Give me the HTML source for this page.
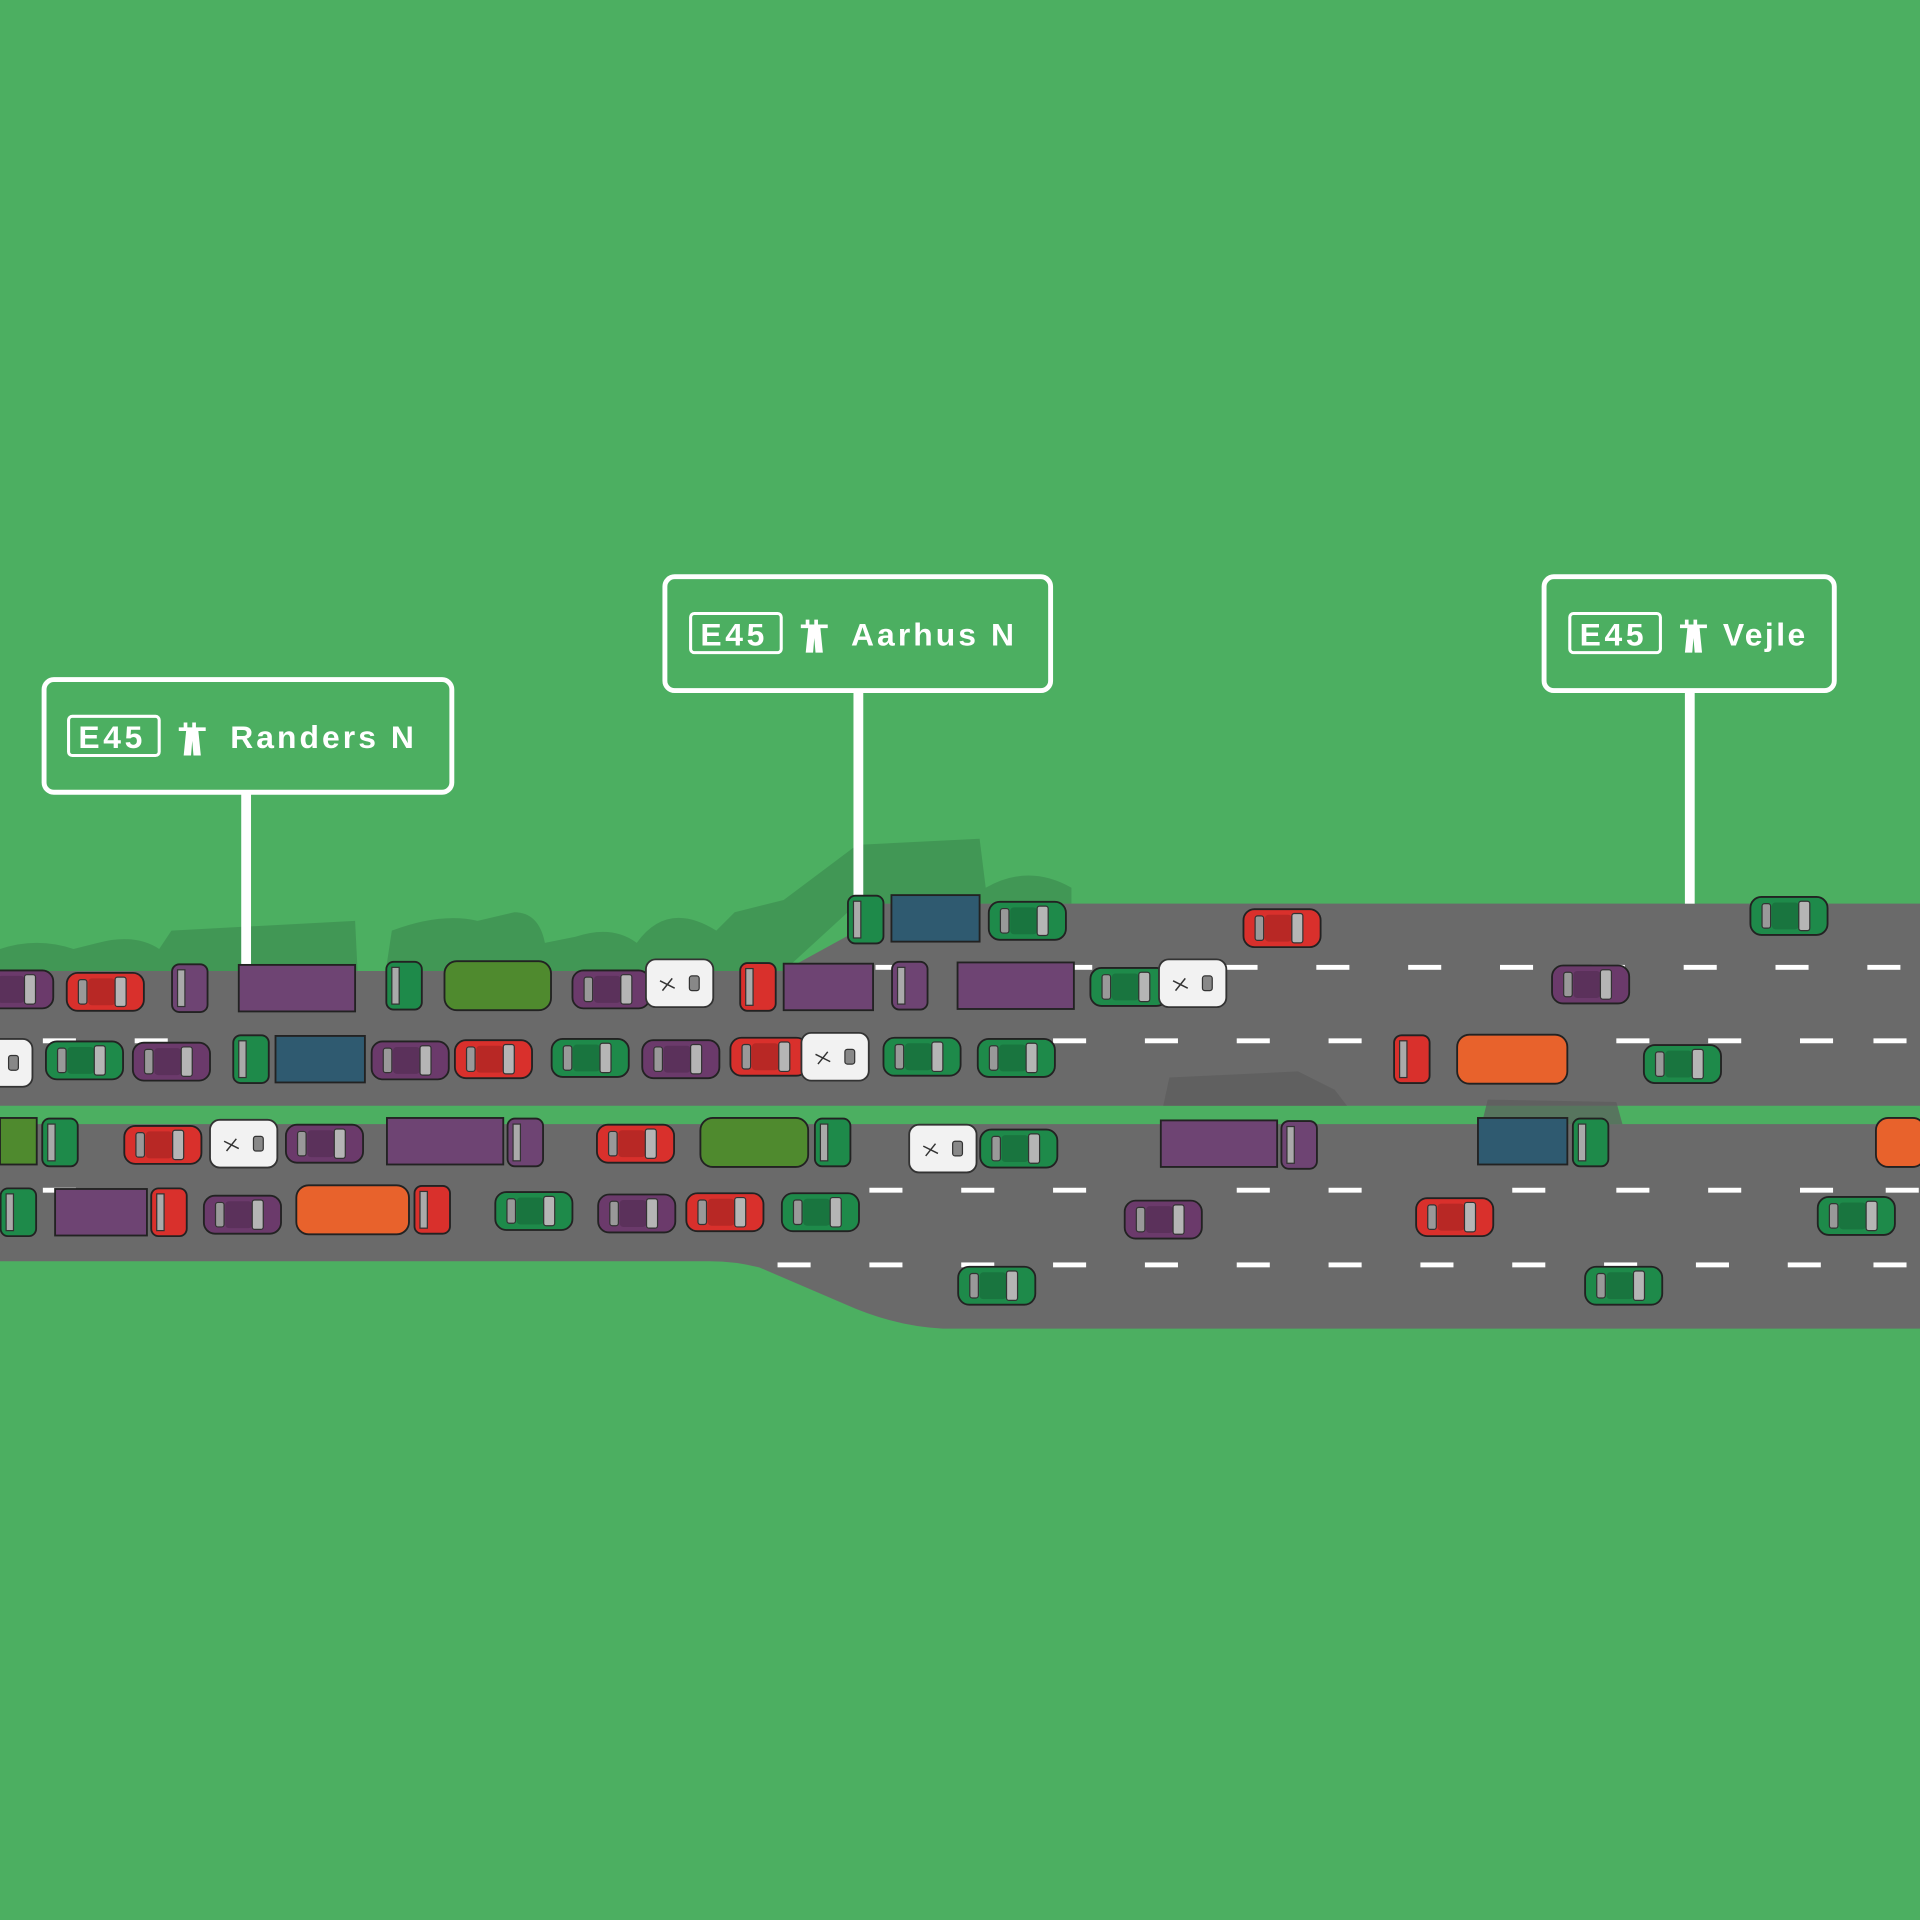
<!DOCTYPE html>
<html><head><meta charset="utf-8"><style>html,body{margin:0;padding:0;background:#4caf61}svg{display:block}</style></head>
<body>
<svg width="1920" height="1920" viewBox="0 0 1568 1568" xmlns="http://www.w3.org/2000/svg">
<defs>
<symbol id="car" viewBox="0 0 64 32" width="64" height="32" overflow="visible">
<rect x="0.5" y="0.5" width="63" height="31" rx="9" fill="currentColor" stroke="#222" stroke-width="1.5"/>
<rect x="18" y="5" width="22" height="22" rx="3" fill="#000" opacity="0.15"/>
<rect x="40" y="4" width="9" height="24" rx="2" fill="#b5b5b5" stroke="#333" stroke-width="1"/>
<rect x="10" y="6" width="7" height="20" rx="2" fill="#999" stroke="#333" stroke-width="1"/>
</symbol>
<symbol id="van" viewBox="0 0 56 40" width="56" height="40" overflow="visible">
<rect x="0.5" y="0.5" width="55" height="39" rx="8" fill="#f2f2f2" stroke="#333" stroke-width="1.5"/>
<rect x="36" y="14" width="8" height="12" rx="2" fill="#888" stroke="#333"/>
<path d="M14 26 l8 -10 M12 18 l12 6" stroke="#333" stroke-width="1.2"/>
</symbol>
<symbol id="cab" viewBox="0 0 30 40" width="30" height="40" overflow="visible">
<rect x="0.5" y="0.5" width="29" height="39" rx="6" fill="currentColor" stroke="#222" stroke-width="1.5"/>
<rect x="5" y="5" width="6" height="30" fill="#aaa" stroke="#333"/>
</symbol>
</defs>
<rect width="1568" height="1568" fill="#4caf61"/>
<g fill="#3f9152" opacity="0.8">
<path d="M0 793 L0 775 Q30 765 60 775 L80 770 Q110 762 130 775 L140 760 L290 752 L292 793Z"/>
<path d="M315 793 L320 760 Q360 745 390 752 L420 745 Q440 745 445 770 L470 765 Q500 755 520 770 Q545 735 585 760 L600 745 L640 735 L700 690 L800 685 L805 725 Q840 705 875 725 L875 738 L700 738 L640 793Z"/>
</g>
<path d="M0 793 L640 793 L700 760 L720 738 L1568 738 L1568 903 L0 903Z" fill="#6a6a6a"/>
<path d="M0 918 L1568 918 L1568 1085 L770 1085 Q730 1083 690 1065 L620 1035 Q600 1030 580 1030 L0 1030Z" fill="#6a6a6a"/>
<g fill="#5c5c5c" opacity="0.7">
<path d="M950 903 L955 880 L1060 875 L1090 890 L1100 903Z"/>
<path d="M1210 918 L1215 898 L1320 900 L1325 918Z"/>
</g>
<g fill="#fff">
<rect x="715" y="788" width="27" height="4"/><rect x="790" y="788" width="27" height="4"/><rect x="865" y="788" width="27" height="4"/><rect x="1000" y="788" width="27" height="4"/><rect x="1075" y="788" width="27" height="4"/><rect x="1150" y="788" width="27" height="4"/><rect x="1225" y="788" width="27" height="4"/><rect x="1300" y="788" width="27" height="4"/><rect x="1375" y="788" width="27" height="4"/><rect x="1450" y="788" width="27" height="4"/><rect x="1525" y="788" width="27" height="4"/>
<rect x="35" y="848" width="27" height="4"/><rect x="110" y="848" width="27" height="4"/><rect x="860" y="848" width="27" height="4"/><rect x="935" y="848" width="27" height="4"/><rect x="1010" y="848" width="27" height="4"/><rect x="1085" y="848" width="27" height="4"/><rect x="1320" y="848" width="27" height="4"/><rect x="1395" y="848" width="27" height="4"/><rect x="1470" y="848" width="27" height="4"/><rect x="1530" y="848" width="27" height="4"/>
<rect x="35" y="970" width="27" height="4"/><rect x="710" y="970" width="27" height="4"/><rect x="785" y="970" width="27" height="4"/><rect x="860" y="970" width="27" height="4"/><rect x="1010" y="970" width="27" height="4"/><rect x="1085" y="970" width="27" height="4"/><rect x="1235" y="970" width="27" height="4"/><rect x="1320" y="970" width="27" height="4"/><rect x="1395" y="970" width="27" height="4"/><rect x="1470" y="970" width="27" height="4"/><rect x="1540" y="970" width="27" height="4"/>
<rect x="635" y="1031" width="27" height="4"/><rect x="710" y="1031" width="27" height="4"/><rect x="785" y="1031" width="27" height="4"/><rect x="860" y="1031" width="27" height="4"/><rect x="935" y="1031" width="27" height="4"/><rect x="1010" y="1031" width="27" height="4"/><rect x="1085" y="1031" width="27" height="4"/><rect x="1160" y="1031" width="27" height="4"/><rect x="1235" y="1031" width="27" height="4"/><rect x="1310" y="1031" width="27" height="4"/><rect x="1385" y="1031" width="27" height="4"/><rect x="1460" y="1031" width="27" height="4"/><rect x="1530" y="1031" width="27" height="4"/>
</g>
<g fill="none" stroke="#fff">
<rect x="36" y="555" width="333" height="92" rx="8" stroke-width="4"/>
<rect x="543" y="471" width="315" height="93" rx="8" stroke-width="4"/>
<rect x="1261" y="471" width="237" height="93" rx="8" stroke-width="4"/>
<rect x="56" y="585" width="74" height="32" rx="3" stroke-width="2.5"/>
<rect x="564" y="501" width="74" height="32" rx="3" stroke-width="2.5"/>
<rect x="1282" y="501" width="74" height="32" rx="3" stroke-width="2.5"/>
</g>
<g fill="#fff">
<rect x="197" y="647" width="8" height="143"/>
<rect x="697" y="564" width="8" height="170"/>
<rect x="1376" y="564" width="8" height="174"/>
</g>
<g fill="#fff" font-family="Liberation Sans, sans-serif" font-weight="bold" font-size="26" letter-spacing="3">
<text x="64" y="611">E45</text><text x="188" y="611" letter-spacing="2.5">Randers N</text>
<text x="572" y="527">E45</text><text x="695" y="527" letter-spacing="2.5">Aarhus N</text>
<text x="1290" y="527">E45</text><text x="1407" y="527" letter-spacing="2">Vejle</text>
</g>
<g fill="#fff">
<path d="M150 590 h3 v4 h4 v-4 h3 v4 h8 v3 h-6 l2 20 h-6 l-1 -12 l-1 12 h-6 l2 -20 h-6 v-3 h4z"/>
<path d="M658 506 h3 v4 h4 v-4 h3 v4 h8 v3 h-6 l2 20 h-6 l-1 -12 l-1 12 h-6 l2 -20 h-6 v-3 h4z"/>
<path d="M1376 506 h3 v4 h4 v-4 h3 v4 h8 v3 h-6 l2 20 h-6 l-1 -12 l-1 12 h-6 l2 -20 h-6 v-3 h4z"/>
</g>
<g stroke="#222" stroke-width="1.5">
<rect x="728" y="731" width="72" height="38" fill="#2f5a70"/>
<rect x="195" y="788" width="95" height="38" fill="#6e4473"/>
<rect x="363" y="785" width="87" height="40" rx="10" fill="#4f8a2e"/>
<rect x="640" y="787" width="73" height="38" fill="#6e4473"/>
<rect x="782" y="786" width="95" height="38" fill="#6e4473"/>
<rect x="225" y="846" width="73" height="38" fill="#2f5a70"/>
<rect x="1190" y="845" width="90" height="40" rx="10" fill="#e8622c"/>
<rect x="572" y="913" width="88" height="40" rx="10" fill="#4f8a2e"/>
<rect x="316" y="913" width="95" height="38" fill="#6e4473"/>
<rect x="948" y="915" width="95" height="38" fill="#6e4473"/>
<rect x="1207" y="913" width="73" height="38" fill="#2f5a70"/>
<rect x="0" y="913" width="30" height="38" fill="#4f8a2e"/>
<rect x="1532" y="913" width="40" height="40" rx="10" fill="#e8622c"/>
<rect x="45" y="971" width="75" height="38" fill="#6e4473"/>
<rect x="242" y="968" width="92" height="40" rx="10" fill="#e8622c"/>
</g>
<g>
<use href="#cab" x="692" y="731" style="color:#1e8a4a"/>
<use href="#cab" x="140" y="787" style="color:#6e4473"/>
<use href="#cab" x="315" y="785" style="color:#1e8a4a"/>
<use href="#cab" x="604" y="786" style="color:#d9302c"/>
<use href="#cab" x="728" y="785" style="color:#6e4473"/>
<use href="#cab" x="190" y="845" style="color:#1e8a4a"/>
<use href="#cab" x="1138" y="845" style="color:#d9302c"/>
<use href="#cab" x="665" y="913" style="color:#1e8a4a"/>
<use href="#cab" x="414" y="913" style="color:#6e4473"/>
<use href="#cab" x="1046" y="915" style="color:#6e4473"/>
<use href="#cab" x="1284" y="913" style="color:#1e8a4a"/>
<use href="#cab" x="34" y="913" style="color:#1e8a4a"/>
<use href="#cab" x="123" y="970" style="color:#d9302c"/>
<use href="#cab" x="338" y="968" style="color:#d9302c"/>
<use href="#cab" x="0" y="970" style="color:#1e8a4a"/>
</g>
<g>
<use href="#car" x="807" y="736" style="color:#1e8a4a"/>
<use href="#car" x="1015" y="742" style="color:#d9302c"/>
<use href="#car" x="1429" y="732" style="color:#1e8a4a"/>
<use href="#car" x="-20" y="792" style="color:#6b3a6b"/>
<use href="#car" x="54" y="794" style="color:#d9302c"/>
<use href="#car" x="467" y="792" style="color:#6b3a6b"/>
<use href="#van" x="527" y="783"/>
<use href="#car" x="890" y="790" style="color:#1e8a4a"/>
<use href="#van" x="946" y="783"/>
<use href="#car" x="1267" y="788" style="color:#6b3a6b"/>
<use href="#van" x="-29" y="848"/>
<use href="#car" x="37" y="850" style="color:#1e8a4a"/>
<use href="#car" x="108" y="851" style="color:#6b3a6b"/>
<use href="#car" x="303" y="850" style="color:#6b3a6b"/>
<use href="#car" x="371" y="849" style="color:#d9302c"/>
<use href="#car" x="450" y="848" style="color:#1e8a4a"/>
<use href="#car" x="524" y="849" style="color:#6b3a6b"/>
<use href="#car" x="596" y="847" style="color:#d9302c"/>
<use href="#van" x="654" y="843"/>
<use href="#car" x="721" y="847" style="color:#1e8a4a"/>
<use href="#car" x="798" y="848" style="color:#1e8a4a"/>
<use href="#car" x="1342" y="853" style="color:#1e8a4a"/>
<use href="#car" x="101" y="919" style="color:#d9302c"/>
<use href="#van" x="171" y="914"/>
<use href="#car" x="233" y="918" style="color:#6b3a6b"/>
<use href="#car" x="487" y="918" style="color:#d9302c"/>
<use href="#van" x="742" y="918"/>
<use href="#car" x="800" y="922" style="color:#1e8a4a"/>
<use href="#car" x="166" y="976" style="color:#6b3a6b"/>
<use href="#car" x="404" y="973" style="color:#1e8a4a"/>
<use href="#car" x="488" y="975" style="color:#6b3a6b"/>
<use href="#car" x="560" y="974" style="color:#d9302c"/>
<use href="#car" x="638" y="974" style="color:#1e8a4a"/>
<use href="#car" x="918" y="980" style="color:#6b3a6b"/>
<use href="#car" x="1156" y="978" style="color:#d9302c"/>
<use href="#car" x="1484" y="977" style="color:#1e8a4a"/>
<use href="#car" x="782" y="1034" style="color:#1e8a4a"/>
<use href="#car" x="1294" y="1034" style="color:#1e8a4a"/>
</g>
</svg>
</body></html>
